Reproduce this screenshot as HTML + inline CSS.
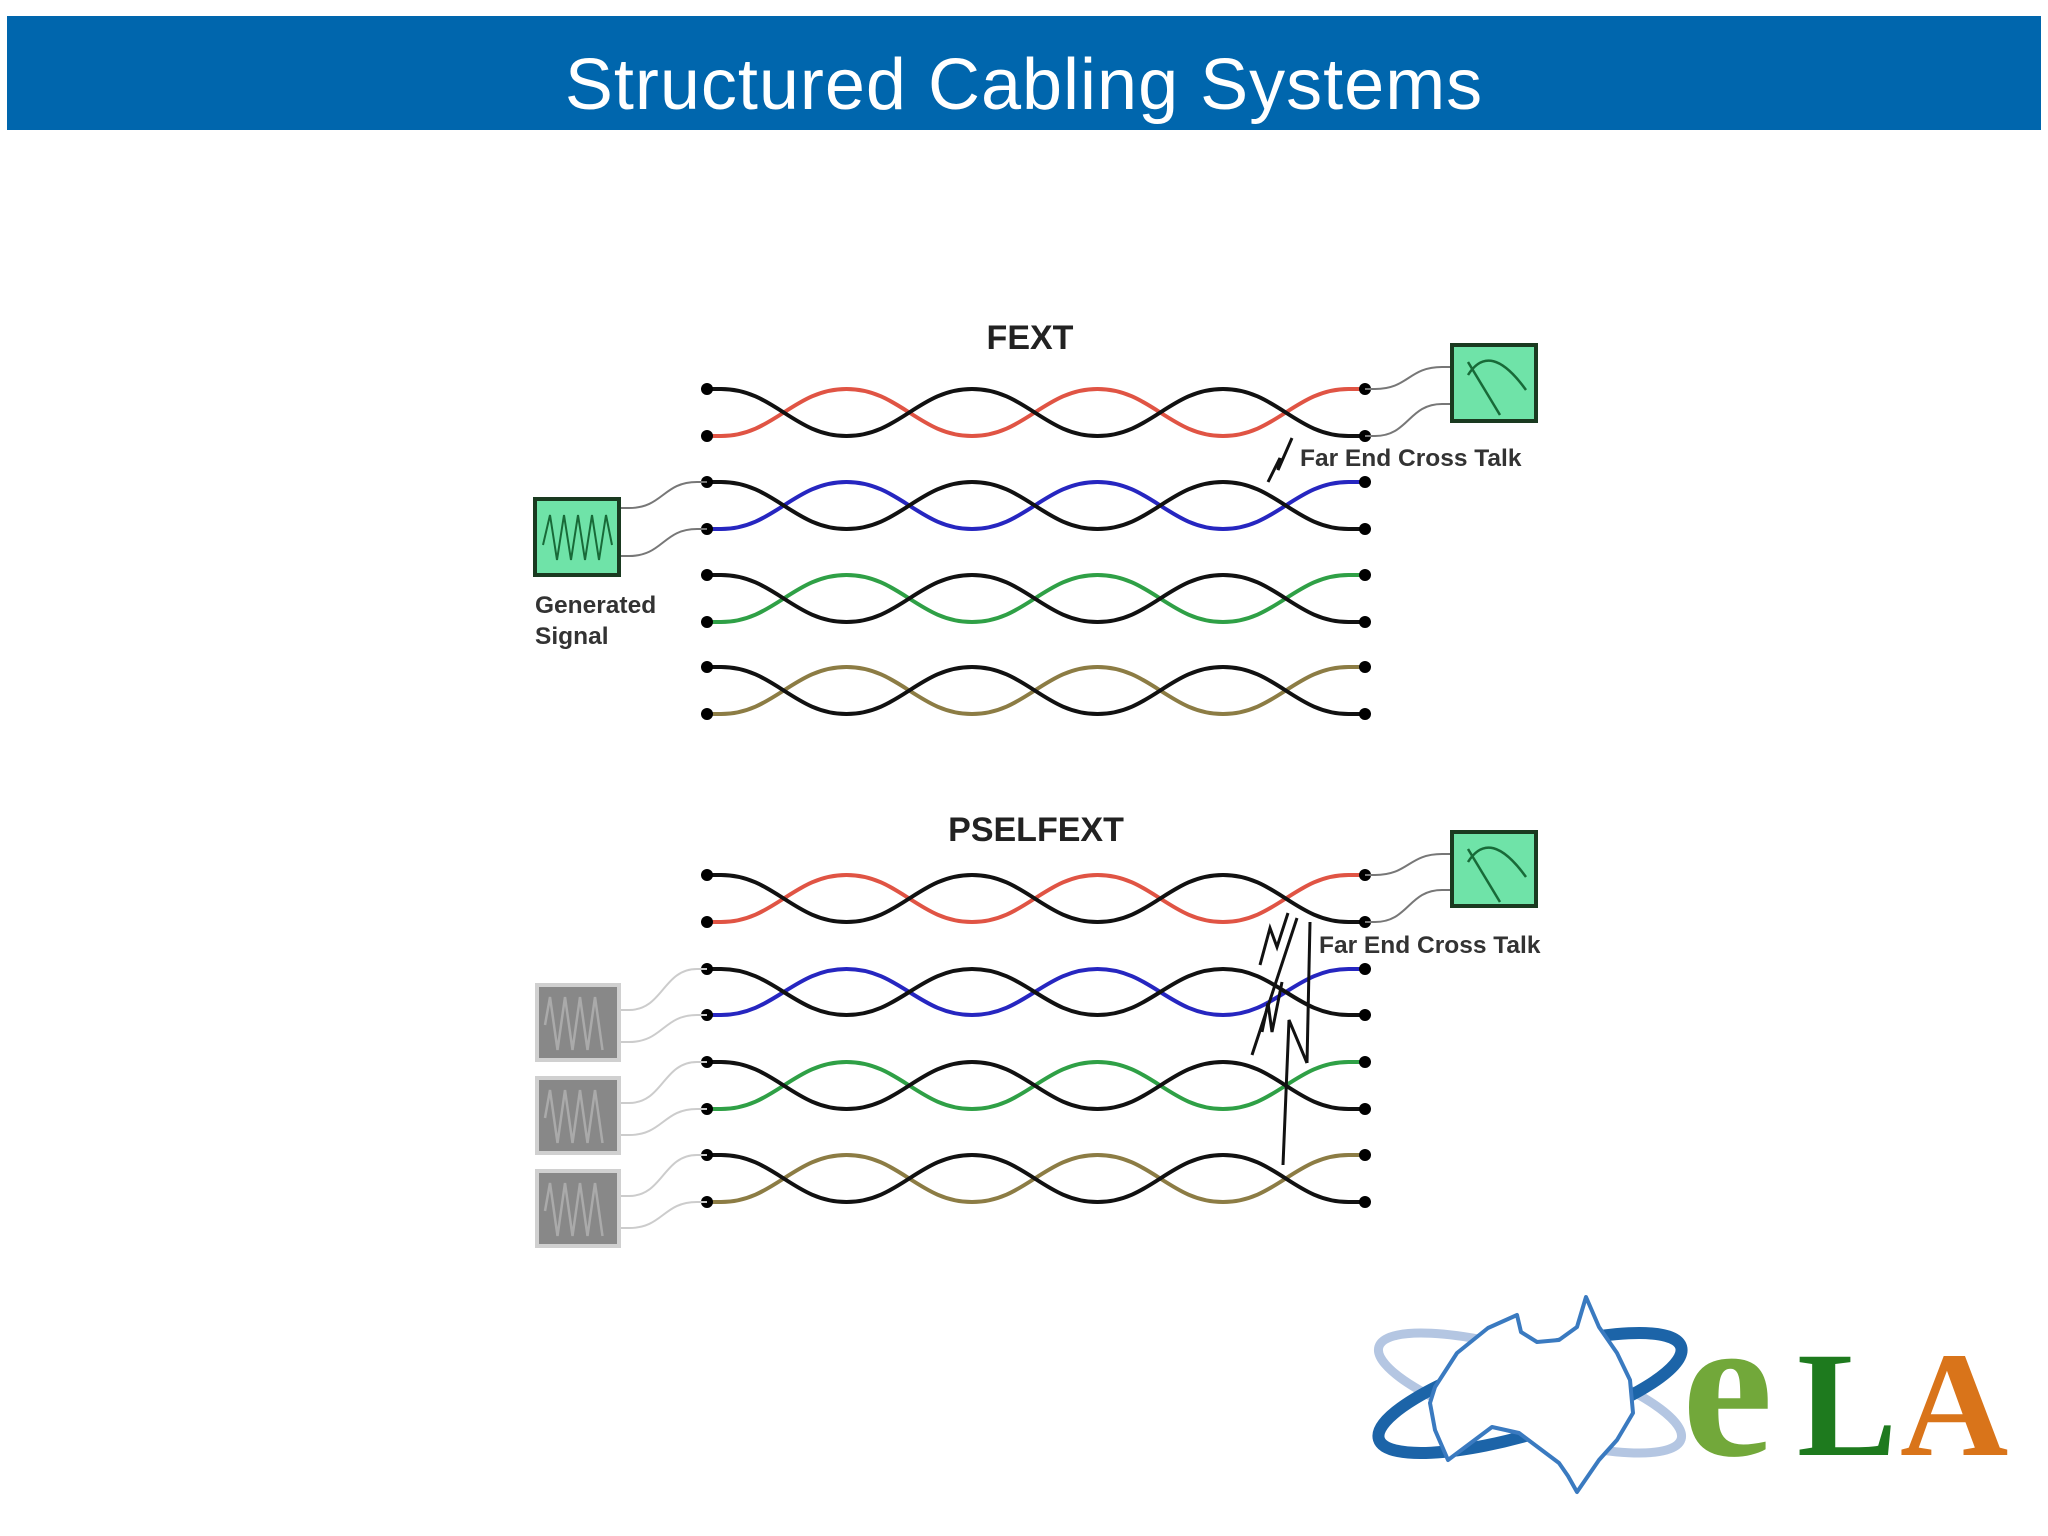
<!DOCTYPE html>
<html><head><meta charset="utf-8"><style>
html,body{margin:0;padding:0;background:#fff;}
body{width:2048px;height:1536px;overflow:hidden;position:relative;font-family:"Liberation Sans",sans-serif;}
#bar{position:absolute;left:7px;top:16px;width:2034px;height:100px;padding-top:14px;background:#0066ad;color:#fff;text-align:center;font-size:72px;line-height:110px;letter-spacing:1px;}
</style></head><body>
<div id="bar">Structured Cabling Systems</div>
<svg id="s" width="2048" height="1536" style="position:absolute;left:0;top:0" xmlns="http://www.w3.org/2000/svg">
<g font-family="Liberation Sans, sans-serif" font-weight="bold" fill="#222">
<text x="1030" y="349" font-size="34" text-anchor="middle">FEXT</text>
<text x="1036" y="841" font-size="34" text-anchor="middle">PSELFEXT</text>
<text x="1300" y="466" font-size="24.5" fill="#333">Far End Cross Talk</text>
<text x="1319" y="953" font-size="24.5" fill="#333">Far End Cross Talk</text>
<text x="535" y="613" font-size="24.5" fill="#333">Generated</text>
<text x="535" y="644" font-size="24.5" fill="#333">Signal</text>
</g>
<g id="wires"></g>
<g>
<rect x="1452" y="345" width="84" height="76" fill="#6fe3a8" stroke="#1a3a20" stroke-width="4"/>
<path d="M1468 375 Q1490 340 1526 390" fill="none" stroke="#186a38" stroke-width="2.5"/>
<path d="M1468 362 L1500 415" fill="none" stroke="#186a38" stroke-width="2.5"/>
<rect x="1452" y="832" width="84" height="74" fill="#6fe3a8" stroke="#1a3a20" stroke-width="4"/>
<path d="M1468 862 Q1490 827 1526 877" fill="none" stroke="#186a38" stroke-width="2.5"/>
<path d="M1468 849 L1500 902" fill="none" stroke="#186a38" stroke-width="2.5"/>
</g>
<rect x="535" y="499" width="84" height="76" fill="#6fe3a8" stroke="#1a3a20" stroke-width="4"/>
<path d="M543 545 L550 515 L557 560 L564 515 L571 560 L578 515 L585 560 L592 515 L599 560 L606 515 L612 545" fill="none" stroke="#186a38" stroke-width="2"/>
<g id="gray"></g>
<g fill="none" stroke="#111" stroke-width="3">
<path d="M1268 482 L1280 458 L1278 470 L1292 438"/>
<path d="M1260 965 L1270 928 L1277 947 L1288 913"/>
<path d="M1297 918 L1252 1055"/>
<path d="M1310 922 L1307 1063"/>
<path d="M1262 1032 L1268 1003 L1272 1032 L1282 982"/>
<path d="M1283 1165 L1289 1020 L1307 1063"/>
</g>
<g>
<ellipse cx="1530" cy="1393" rx="158" ry="40" transform="rotate(17 1530 1393)" fill="none" stroke="#b4c6e2" stroke-width="9"/>
<ellipse cx="1530" cy="1393" rx="158" ry="40" transform="rotate(-17 1530 1393)" fill="none" stroke="#1c64a8" stroke-width="12"/>
<path d="M1435 1387 L1457 1353 L1488 1328 L1517 1315 L1521 1332 L1537 1342 L1559 1340 L1577 1327 L1586 1297 L1599 1327 L1617 1353 L1630 1380 L1633 1413 L1617 1440 L1599 1460 L1577 1492 L1568 1476 L1559 1463 L1519 1433 L1492 1427 L1448 1460 L1435 1430 L1430 1403 Z" fill="#fff" stroke="#3a7ac0" stroke-width="4" stroke-linejoin="round"/>
<text x="1682" y="1455" font-family="Liberation Serif, serif" font-weight="bold" font-size="205" fill="#72a83a">e</text>
<text x="1797" y="1455" font-family="Liberation Serif, serif" font-weight="bold" font-size="150" fill="#1e7a1e">L</text>
<text x="1900" y="1455" font-family="Liberation Serif, serif" font-weight="bold" font-size="150" fill="#d9741a">A</text>
</g>
</svg>
<script>
var NS="http://www.w3.org/2000/svg";
var W=document.getElementById("wires"),G=document.getElementById("gray");
function el(p,t,a){var e=document.createElementNS(NS,t);for(var k in a)e.setAttribute(k,a[k]);p.appendChild(e);return e;}
function wave(y1,y2){var h=125.5,k=0.42*h,x=721,d="M707 "+y1+" L721 "+y1,y=y1;
for(var i=0;i<5;i++){var ny=(y==y1)?y2:y1;d+=" C"+(x+k)+" "+y+" "+(x+h-k)+" "+ny+" "+(x+h)+" "+ny;x+=h;y=ny;}
d+=" L1365 "+y;return d;}
function pair(y1,y2,c){
el(W,"path",{d:wave(y2,y1),stroke:c,"stroke-width":4,fill:"none"});
el(W,"path",{d:wave(y1,y2),stroke:"#111","stroke-width":4,fill:"none"});
[[707,y1],[707,y2],[1365,y1],[1365,y2]].forEach(function(p){el(W,"circle",{cx:p[0],cy:p[1],r:6,fill:"#000"});});}
function sw(x1,y1,x2,y2,c){var m=(x1+x2)/2;el(W,"path",{d:"M"+x1+" "+y1+" L"+(x1+10)+" "+y1+" C"+m+" "+y1+" "+m+" "+y2+" "+(x2-10)+" "+y2+" L"+x2+" "+y2,stroke:c,"stroke-width":2,fill:"none"});}
var cols=["#e05444","#2626c0","#2fa046","#8c7c44"];
var A=[[389,436],[482,529],[575,622],[667,714]],B=[[875,922],[969,1015],[1062,1109],[1155,1202]];
for(var i=0;i<4;i++){pair(A[i][0],A[i][1],cols[i]);pair(B[i][0],B[i][1],cols[i]);}
sw(1365,389,1452,367,"#777");sw(1365,436,1452,404,"#777");
sw(1365,875,1452,854,"#777");sw(1365,922,1452,890,"#777");
sw(619,508,707,482,"#777");sw(619,556,707,529,"#777");
var gy=[985,1078,1171];
for(var j=0;j<3;j++){var y=gy[j];
el(G,"rect",{x:537,y:y,width:82,height:75,fill:"#888",stroke:"#d0d0d0","stroke-width":4});
var d="M545 "+(y+40);for(var t=0;t<8;t++){d+=" L"+(550+t*7.5)+" "+(y+(t%2?65:12));}
el(G,"path",{d:d,stroke:"#aaa","stroke-width":2.5,fill:"none"});
sw(619,y+25,707,B[j+1][0],"#ccc");sw(619,y+57,707,B[j+1][1],"#ccc");}
</script>
</body></html>
